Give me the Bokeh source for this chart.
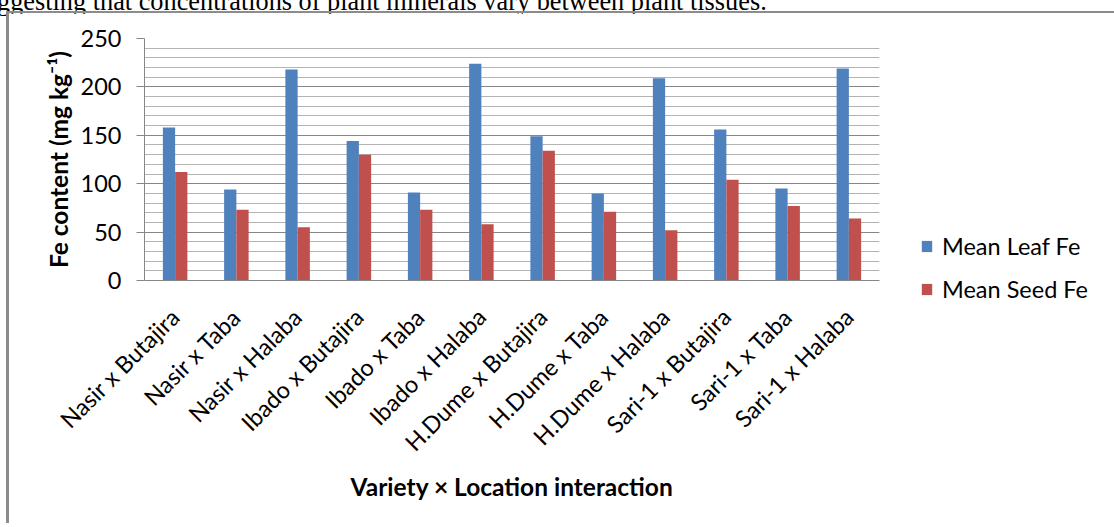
from math import pi
from bokeh.plotting import figure
from bokeh.layouts import column
from bokeh.models import (ColumnDataSource, FactorRange, Legend, LegendItem, Div,
                          Range1d, FixedTicker)
from bokeh.transform import dodge
from bokeh.embed import file_html
from bokeh.resources import INLINE

categories = ["Nasir x Butajira", "Nasir x Taba", "Nasir x Halaba",
              "Ibado x Butajira", "Ibado x Taba", "Ibado x Halaba",
              "H.Dume x Butajira", "H.Dume x Taba", "H.Dume x Halaba",
              "Sari-1 x Butajira", "Sari-1 x Taba", "Sari-1 x Halaba"]
leaf_fe = [158, 94, 218, 144, 91, 224, 149, 90, 209, 156, 95, 219]
seed_fe = [112, 73, 55, 130, 73, 58, 134, 71, 52, 104, 77, 64]
y_ticks = [0, 50, 100, 150, 200, 250]
y_minor = list(range(0, 251, 10))
series_names = ["Mean Leaf Fe", "Mean Seed Fe"]
series_colors = ["#4f81bd", "#c0504d"]
caption = "ggesting that concentrations of plant minerals vary between plant tissues."

source = ColumnDataSource(data=dict(cat=categories, leaf=leaf_fe, seed=seed_fe))

FONT = "Lato"
W, H = 1100, 510
FL, FT, FW, FH = 135, 25, 732, 240
BORDER = "#8c8c8c"

p = figure(width=W, height=H, frame_width=FW, frame_height=FH,
           output_backend="svg", toolbar_location=None,
           title_location=None,
           x_range=FactorRange(*categories, range_padding=0, factor_padding=0),
           y_range=Range1d(0, 250),
           min_border_left=FL, min_border_top=FT,
           min_border_right=W - FL - FW, min_border_bottom=H - FT - FH,
           margin=(0, 0, 0, 6),
           styles={"border-left": "3px solid " + BORDER, "border-top": "2px solid " + BORDER})
p.outline_line_color = None
p.background_fill_color = "white"
p.border_fill_color = "white"

r1 = p.vbar(x=dodge("cat", -0.1, range=p.x_range), top="leaf", width=0.2, source=source,
            fill_color=series_colors[0], line_color=None)
r2 = p.vbar(x=dodge("cat", 0.1, range=p.x_range), top="seed", width=0.2, source=source,
            fill_color=series_colors[1], line_color=None)

p.xgrid.grid_line_color = None
p.ygrid.grid_line_color = "#868686"
p.ygrid.grid_line_width = 1
p.ygrid.minor_grid_line_color = "#b3b3b3"
p.ygrid.minor_grid_line_width = 1
p.yaxis.ticker = FixedTicker(ticks=y_ticks, minor_ticks=y_minor)

p.yaxis.axis_line_color = "#868686"
p.yaxis.major_tick_line_color = "#868686"
p.yaxis.major_tick_out = 8
p.yaxis.major_tick_in = 0
p.yaxis.minor_tick_line_color = None
p.yaxis.major_label_text_font = FONT
p.yaxis.major_label_text_font_size = "23.5px"
p.yaxis.major_label_text_color = "#000000"
p.yaxis.major_label_standoff = 15
p.yaxis.axis_label = "Fe content (mg kg\u207b\u00b9)"
p.yaxis.axis_label_text_font = FONT
p.yaxis.axis_label_text_font_style = "bold"
p.yaxis.axis_label_text_font_size = "24.5px"
p.yaxis.axis_label_text_color = "#000000"
p.yaxis.axis_label_standoff = 5

p.xaxis.axis_line_color = "#868686"
p.xaxis.major_tick_line_color = None
p.xaxis.minor_tick_line_color = None
p.xaxis.major_label_orientation = pi / 4
p.xaxis.major_label_text_font = FONT
p.xaxis.major_label_text_font_size = "23.5px"
p.xaxis.major_label_text_color = "#000000"
p.xaxis.major_label_standoff = 26
p.xaxis.axis_label = "Variety \u00d7 Location interaction"
p.xaxis.axis_label_text_font = FONT
p.xaxis.axis_label_text_font_style = "bold"
p.xaxis.axis_label_text_font_size = "24.5px"
p.xaxis.axis_label_text_color = "#000000"
p.xaxis.axis_label_standoff = 3

legend = Legend(items=[LegendItem(label=series_names[0], renderers=[r1]),
                       LegendItem(label=series_names[1], renderers=[r2])],
                location=(41, -24), orientation="vertical",
                border_line_color=None, background_fill_alpha=0,
                padding=0, margin=10, spacing=13,
                glyph_width=13, glyph_height=14, label_height=30,
                label_standoff=9, label_text_font=FONT,
                label_text_font_size="23.5px", label_text_color="#000000")
p.add_layout(legend, "right")

cap = Div(text=('<div style="position:relative;top:-11px;left:-3px;white-space:nowrap;'
                "font-family:'Liberation Serif';font-size:26.3px;line-height:26px;"
                'color:#000000;">' + caption + "</div>"),
          width=W, height=11, margin=(0, 0, 0, 0), styles={"overflow": "visible"})

layout = column(cap, p, spacing=0)

open("out.html", "w").write(file_html(layout, INLINE))
